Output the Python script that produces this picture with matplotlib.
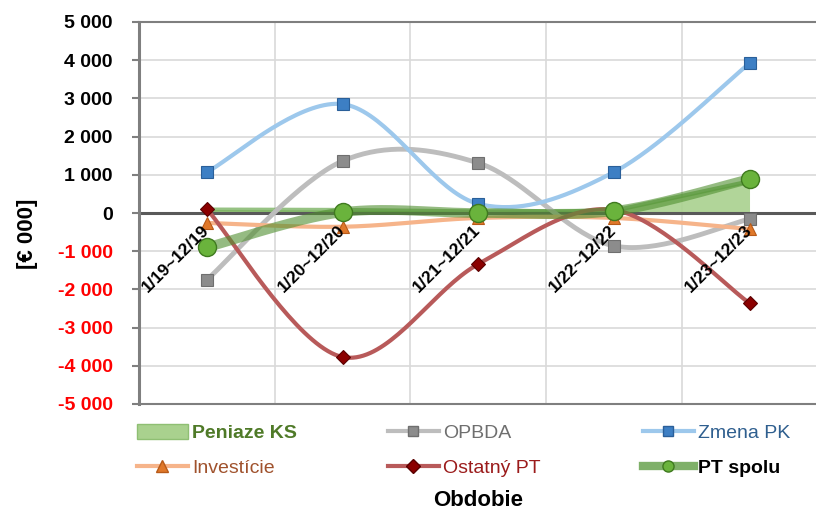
import numpy as np
import matplotlib
matplotlib.use("Agg")
import matplotlib.pyplot as plt
from matplotlib.lines import Line2D
from matplotlib.patches import Patch

plt.rcParams['font.family'] = ['Liberation Sans', 'DejaVu Sans']

categories = ["1/19~12/19", "1/20~12/20", "1/21~12/21", "1/22~12/22", "1/23~12/23"]
peniaze_ks = [90, 80, 40, 60, 830]
opbda = [-1750, 1360, 1310, -860, -160]
zmena_pk = [1070, 2850, 240, 1070, 3920]
investicie = [-260, -360, -130, -130, -420]
ostatny_pt = [100, -3770, -1340, 80, -2360]
pt_spolu = [-900, 20, 0, 50, 890]
yticks = list(range(-5000, 5001, 1000))


def smooth(vals, n=40):
    x = np.arange(len(vals), dtype=float)
    P = np.column_stack([x, np.asarray(vals, float)])
    ext = np.vstack([P[0], P, P[-1]])
    out = []
    t = np.linspace(0, 1, n)[:, None]
    for i in range(len(P) - 1):
        p0, p1, p2, p3 = ext[i], ext[i + 1], ext[i + 2], ext[i + 3]
        c1 = p1 + (p2 - p0) / 6
        c2 = p2 - (p3 - p1) / 6
        seg = (1 - t) ** 3 * p1 + 3 * (1 - t) ** 2 * t * c1 + 3 * (1 - t) * t ** 2 * c2 + t ** 3 * p2
        out.append(seg if i == 0 else seg[1:])
    s = np.vstack(out)
    return s[:, 0], s[:, 1]


W, H = 816, 515
fig = plt.figure(figsize=(W / 100, H / 100), dpi=100)
ax = fig.add_axes([139 / W, 1 - 404 / H, (W - 139) / W, (404 - 22) / H])
ax.set_xlim(-0.5, 4.49)
ax.set_ylim(-5000, 5000)

x = np.arange(len(categories))

# grid
for v in yticks:
    ax.axhline(v, color='#d9d9d9', lw=1.2, zorder=0)
for xv in [0.5, 1.5, 2.5, 3.5]:
    ax.axvline(xv, color='#d9d9d9', lw=1.2, zorder=0)

# area
ax.fill_between(x, 0, peniaze_ks, color='#a9d18e', alpha=0.9, lw=0, zorder=1)
ax.plot(x, peniaze_ks, color='#6aa84f', lw=3, alpha=0.7, zorder=1.5, solid_capstyle='butt')

ax.axhline(0, color='#595959', lw=2.2, zorder=2)

series = [
    (opbda, '#bdbdbd', 3.5, 's', 8, '#8c8c8c', '#6f6f6f'),
    (zmena_pk, '#9dc8ec', 3, 's', 8, '#3d7fc4', '#2a5f99'),
    (investicie, '#f6b48a', 3, '^', 9, '#e0782a', '#b85a18'),
    (ostatny_pt, '#b85a5a', 3, 'D', 7, '#8b0000', '#5a0000'),
]
z = 3
for vals, lc, lw, mk, ms, mfc, mec in series:
    sx, sy = smooth(vals)
    ax.plot(sx, sy, color=lc, lw=lw, zorder=z, solid_capstyle='round')
    ax.plot(x, vals, ls='none', marker=mk, ms=ms, mfc=mfc, mec=mec, mew=0.8, zorder=z + 0.5)
    z += 1

sx, sy = smooth(pt_spolu)
ax.plot(sx, sy, color='#4f8f2f', lw=7, alpha=0.6, zorder=z, solid_capstyle='round')
ax.plot(x, pt_spolu, ls='none', marker='o', ms=13, mfc='#6ab33c', mec='#3f7a1f', mew=1, zorder=z + 0.5)

# spines
for s in ['top', 'bottom']:
    ax.spines[s].set_color('#7f7f7f')
    ax.spines[s].set_linewidth(1.5)
ax.spines['left'].set_color('#7f7f7f')
ax.spines['left'].set_linewidth(2.2)
ax.spines['right'].set_visible(False)

ax.set_yticks(yticks)
ax.set_yticklabels([f"{v:,}".replace(",", " ") for v in yticks], fontsize=14, fontweight='bold')
for lab, v in zip(ax.get_yticklabels(), yticks):
    lab.set_color('red' if v < 0 else 'black')
ax.tick_params(axis='y', direction='out', length=5, width=1.5, color='#7f7f7f', pad=14)
ax.set_xticks([])

for i, c in enumerate(categories):
    ax.text(i + 0.04, -250, c, rotation=45, ha='right', va='top', fontsize=12.5,
            fontweight='bold', color='black', zorder=10)

fig.text(28 / W, 1 - 234 / H, "[€ 000]", rotation=90, ha='center', va='center',
         fontsize=16, fontweight='bold')
fig.text(478 / W, 1 - 500 / H, "Obdobie", ha='center', va='center', fontsize=16, fontweight='bold')

# legends
def lh(lc, lw, mk, ms, mfc, mec):
    return Line2D([], [], color=lc, lw=lw, marker=mk, ms=ms, mfc=mfc, mec=mec)

cols = [
    (137, [(Patch(facecolor='#a9d18e', edgecolor='#8fbf73', lw=1), 'Peniaze KS', '#4f7a28', 'bold'),
           (lh('#f6b48a', 3, '^', 9, '#e0782a', '#b85a18'), 'Investície', '#a0522d', 'normal')]),
    (388, [(lh('#bdbdbd', 3, 's', 7, '#8c8c8c', '#6f6f6f'), 'OPBDA', '#6f6f6f', 'normal'),
           (lh('#b85a5a', 3, 'D', 7, '#8b0000', '#5a0000'), 'Ostatný PT', '#9b1b1b', 'normal')]),
    (643, [(lh('#9dc8ec', 3, 's', 7, '#3d7fc4', '#2a5f99'), 'Zmena PK', '#2f5f8f', 'normal'),
           (lh('#7fb069', 6, 'o', 8, '#6ab33c', '#3f7a1f'), 'PT spolu', 'black', 'bold')]),
]
for xpos, entries in cols:
    leg = fig.legend([e[0] for e in entries], [e[1] for e in entries], loc='upper left',
                     bbox_to_anchor=(xpos / W, 1 - 424 / H), frameon=False, fontsize=14,
                     handlelength=2.6, handletextpad=0.25, borderaxespad=0, borderpad=0,
                     labelspacing=0.85, handleheight=0.8)
    for t, e in zip(leg.get_texts(), entries):
        t.set_color(e[2])
        t.set_fontweight(e[3])

fig.savefig("out.png", dpi=100)
